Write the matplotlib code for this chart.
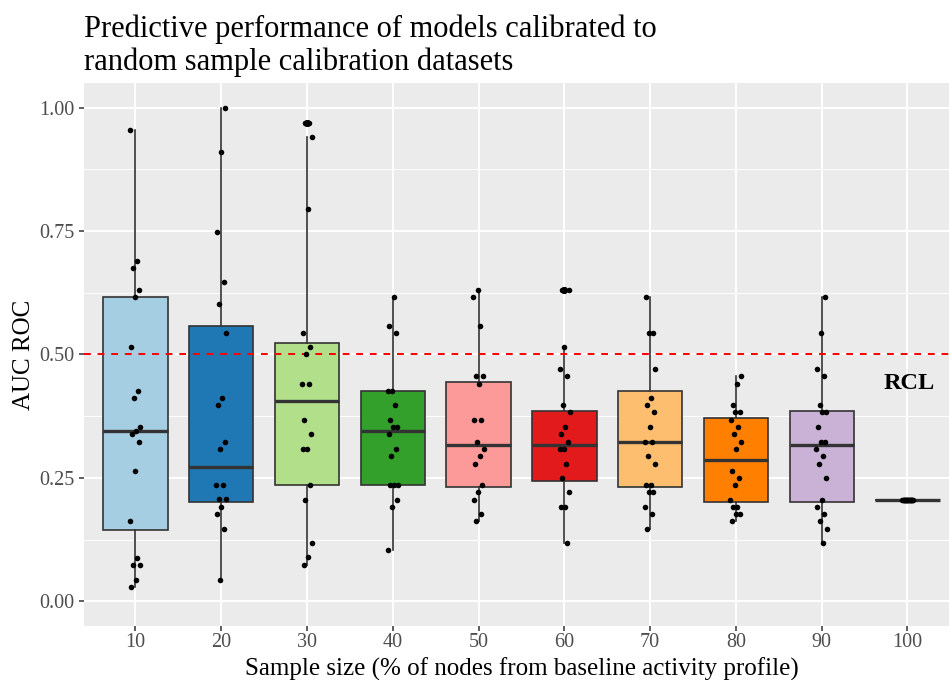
import numpy as np
import matplotlib
matplotlib.use("Agg")
import matplotlib.pyplot as plt

plt.rcParams["font.family"] = ["Liberation Serif", "DejaVu Serif"]

# Sample size categories (% of nodes from baseline activity profile)
sample_sizes = ["10", "20", "30", "40", "50", "60", "70", "80", "90", "100"]

# AUC ROC of each calibrated model replicate
auc_10 = [0.955, 0.690, 0.675, 0.631, 0.617, 0.515, 0.426, 0.412, 0.353, 0.345,
          0.338, 0.323, 0.265, 0.162, 0.088, 0.074, 0.074, 0.044, 0.029]
auc_20 = [1.000, 0.910, 0.749, 0.647, 0.602, 0.543, 0.412, 0.397, 0.323, 0.308,
          0.236, 0.236, 0.207, 0.207, 0.191, 0.176, 0.147, 0.044]
auc_30 = [0.969, 0.969, 0.940, 0.794, 0.543, 0.515, 0.500, 0.441, 0.441, 0.368,
          0.338, 0.308, 0.308, 0.236, 0.206, 0.118, 0.089, 0.074]
auc_40 = [0.617, 0.558, 0.543, 0.426, 0.426, 0.397, 0.368, 0.353, 0.353, 0.338,
          0.308, 0.294, 0.236, 0.236, 0.236, 0.206, 0.191, 0.103]
auc_50 = [0.631, 0.617, 0.558, 0.456, 0.456, 0.441, 0.368, 0.368, 0.323, 0.308,
          0.294, 0.279, 0.236, 0.221, 0.206, 0.176, 0.162]
auc_60 = [0.631, 0.631, 0.515, 0.470, 0.456, 0.397, 0.383, 0.353, 0.338, 0.323,
          0.308, 0.308, 0.279, 0.250, 0.221, 0.191, 0.191, 0.118]
auc_70 = [0.617, 0.543, 0.543, 0.470, 0.412, 0.397, 0.383, 0.353, 0.323, 0.323,
          0.294, 0.279, 0.236, 0.236, 0.221, 0.221, 0.191, 0.176, 0.147]
auc_80 = [0.456, 0.441, 0.397, 0.383, 0.383, 0.368, 0.353, 0.338, 0.323, 0.308,
          0.265, 0.250, 0.236, 0.206, 0.191, 0.191, 0.176, 0.176, 0.162]
auc_90 = [0.617, 0.543, 0.470, 0.456, 0.397, 0.383, 0.383, 0.353, 0.323, 0.323,
          0.308, 0.294, 0.279, 0.250, 0.206, 0.191, 0.176, 0.162, 0.147, 0.118]
auc_100 = [0.206] * 20

# Box summaries per sample size
box_q1 = [0.1435, 0.202, 0.236, 0.236, 0.232, 0.243, 0.232, 0.202, 0.202, 0.206]
box_median = [0.346, 0.273, 0.405, 0.346, 0.316, 0.316, 0.323, 0.287, 0.316, 0.206]
box_q3 = [0.617, 0.558, 0.523, 0.426, 0.444, 0.385, 0.426, 0.371, 0.385, 0.206]
whisker_low = [0.029, 0.044, 0.074, 0.103, 0.162, 0.118, 0.147, 0.162, 0.118, 0.206]
whisker_high = [0.955, 1.000, 0.940, 0.617, 0.631, 0.515, 0.617, 0.456, 0.617, 0.206]

reference_auc = 0.5
reference_label = "RCL"

box_colors = ["#A6CEE3", "#1F78B4", "#B2DF8A", "#33A02C", "#FB9A99",
              "#E31A1C", "#FDBF6F", "#FF7F00", "#CAB2D6", "#6A3D9A"]

groups = [auc_10, auc_20, auc_30, auc_40, auc_50,
          auc_60, auc_70, auc_80, auc_90, auc_100]

W, H = 949, 680
fig = plt.figure(figsize=(W / 100, H / 100), dpi=100)
ax_left, ax_top, ax_bottom = 84, 83, 626
ax = fig.add_axes([ax_left / W, 1 - ax_bottom / H, 1 - ax_left / W,
                   (ax_bottom - ax_top) / H])
ax.set_facecolor("#EBEBEB")

positions = np.arange(1, len(sample_sizes) + 1)

stats = []
for i, vals in enumerate(groups):
    fl = [v for v in vals if v > whisker_high[i] or v < whisker_low[i]]
    stats.append(dict(whislo=whisker_low[i], q1=box_q1[i], med=box_median[i],
                      q3=box_q3[i], whishi=whisker_high[i], fliers=fl))

edge = "#333333"
bp = ax.bxp(stats, positions=positions, widths=0.75, patch_artist=True,
            showcaps=False, showfliers=True,
            boxprops=dict(edgecolor=edge, linewidth=1.2),
            whiskerprops=dict(color=edge, linewidth=1.2),
            medianprops=dict(color=edge, linewidth=2.4, solid_capstyle="butt"),
            flierprops=dict(marker="o", markerfacecolor="black",
                            markeredgecolor="black", markersize=4),
            zorder=3)
for patch, c in zip(bp["boxes"], box_colors):
    patch.set_facecolor(c)

# Jittered replicate points
golden = 0.6180339887
for i, vals in enumerate(groups):
    n = len(vals)
    offs = (((np.arange(n) + i * 3) * golden) % 1 - 0.5) * 2 * 0.065
    ax.scatter(positions[i] + offs, vals, s=16, color="black", zorder=5,
               linewidths=0)

ax.axhline(reference_auc, color="#FF0000", linewidth=1.4,
           linestyle=(0, (3.5, 3.5)), zorder=4)
ax.text(positions[-1] + 0.02, 0.430, reference_label, ha="center",
        va="baseline", fontsize=17.5, fontweight="bold", color="black",
        zorder=6)

ax.set_xlim(0.4, 0.4 + (W - ax_left) / 85.78)
ax.set_ylim(-0.05, 1.05)
ax.set_xticks(positions)
ax.set_xticklabels(sample_sizes)
ax.set_yticks([0.0, 0.25, 0.5, 0.75, 1.0])
ax.set_yticklabels(["0.00", "0.25", "0.50", "0.75", "1.00"])
ax.set_yticks([0.125, 0.375, 0.625, 0.875], minor=True)

ax.grid(which="major", color="white", linewidth=1.4, zorder=0)
ax.grid(which="minor", axis="y", color="white", linewidth=0.7, zorder=0)
ax.set_axisbelow(True)
for s in ax.spines.values():
    s.set_visible(False)
ax.tick_params(axis="both", which="major", length=3.6, width=1.1,
               color="#333333", labelsize=14.5, labelcolor="#4D4D4D")
ax.tick_params(axis="x", which="major", pad=1.5)
ax.tick_params(axis="y", which="major", pad=3)
ax.tick_params(axis="y", which="minor", length=0)

ax.set_xlabel("Sample size (% of nodes from baseline activity profile)",
              fontsize=18)
ax.xaxis.set_label_coords(0.5058, -0.058)
ax.set_ylabel("AUC ROC", fontsize=18)
ax.yaxis.set_label_coords(-0.0561, 0.5)

fig.text(ax_left / W, 1 - 37.3 / H,
         "Predictive performance of models calibrated to",
         ha="left", va="baseline", fontsize=22)
fig.text(ax_left / W, 1 - 70 / H,
         "random sample calibration datasets",
         ha="left", va="baseline", fontsize=22)

fig.savefig("out.png", dpi=100)
